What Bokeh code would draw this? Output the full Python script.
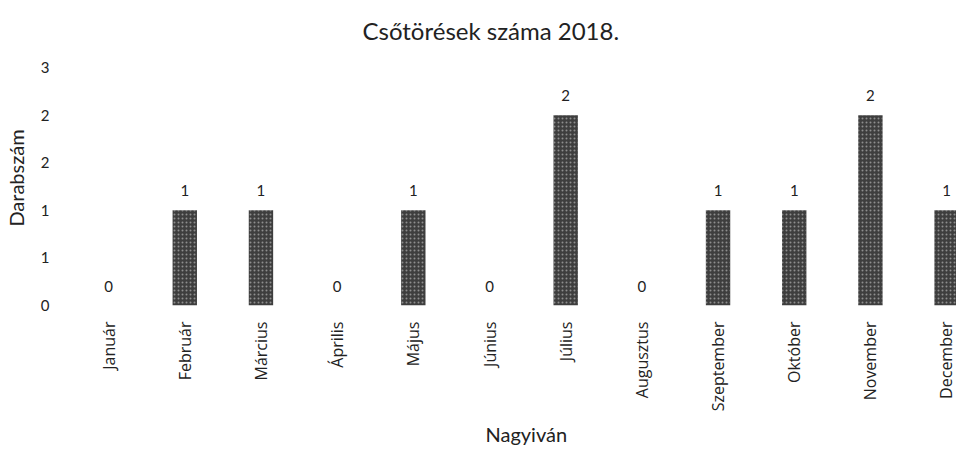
import math
from bokeh.plotting import figure
from bokeh.models import ColumnDataSource, Range1d, FixedTicker, LabelSet, Title
from bokeh.core.properties import value
from bokeh.embed import file_html
from bokeh.resources import INLINE

months = ["Január", "Február", "Március", "Április", "Május", "Június",
          "Július", "Augusztus", "Szeptember", "Október", "November", "December"]
counts = [0, 1, 1, 0, 1, 0, 2, 0, 1, 1, 2, 1]
y_ticks = [0, 0.5, 1, 1.5, 2, 2.5]
y_tick_labels = ["0", "1", "1", "2", "2", "3"]

xs = list(range(len(months)))
src = ColumnDataSource(dict(x=xs, y=counts, lbl=[str(c) for c in counts]))

p = figure(width=956, height=451, output_backend="svg", toolbar_location=None,
           x_range=Range1d(-0.5, 11.13), y_range=Range1d(0, 2.68))
p.min_border_left = 70
p.min_border_right = 0
p.min_border_top = 50
p.min_border_bottom = 146
p.outline_line_color = None
p.background_fill_color = "white"
p.border_fill_color = "white"

main_title = Title(text="Csőtörések száma 2018.", align="left", offset=292,
                   text_font="Lato", text_font_size="24px", text_font_style="normal",
                   text_color="#222222", standoff=12)
p.add_layout(main_title, "above")

p.vbar(x="x", top="y", width=0.32, bottom=0, source=src,
       fill_color="#3e3e3e", line_color=None,
       hatch_pattern="dot", hatch_color="#cfcfcf", hatch_scale=4, hatch_weight=1, hatch_alpha=0.55)

labels = LabelSet(x="x", y="y", text="lbl", source=src, x_offset=0, y_offset=14,
                  text_align="center", text_baseline="bottom",
                  text_font=value("Lato"), text_font_size="15px", text_color="#222222")
p.add_layout(labels)

p.xgrid.grid_line_color = None
p.ygrid.grid_line_color = None

p.xaxis.ticker = FixedTicker(ticks=xs)
p.xaxis.major_label_overrides = {i: m for i, m in zip(xs, months)}
p.xaxis.major_label_orientation = math.pi / 2
p.xaxis.major_label_standoff = 10
p.xaxis.major_label_text_font = "Open Sans"
p.xaxis.major_label_text_font_size = "16px"
p.xaxis.major_label_text_color = "#222222"

x_title = Title(text="Nagyiván", align="left", offset=415, text_font="Lato", text_font_size="20px",
                text_font_style="normal", text_color="#222222", standoff=10)
p.add_layout(x_title, "below")

p.yaxis.ticker = FixedTicker(ticks=y_ticks)
p.yaxis.major_label_overrides = {t: l for t, l in zip(y_ticks, y_tick_labels)}
p.yaxis.major_label_standoff = 15
p.yaxis.major_label_text_font = "Lato"
p.yaxis.major_label_text_font_size = "15px"
p.yaxis.major_label_text_color = "#222222"
p.yaxis.axis_label = "Darabszám"
p.yaxis.axis_label_text_font = "Lato"
p.yaxis.axis_label_text_font_size = "20px"
p.yaxis.axis_label_text_font_style = "normal"
p.yaxis.axis_label_text_color = "#222222"
p.yaxis.axis_label_standoff = 10

for ax in (p.xaxis, p.yaxis):
    ax.axis_line_color = None
    ax.major_tick_line_color = None
    ax.minor_tick_line_color = None

open("out.html", "w").write(file_html(p, INLINE))
